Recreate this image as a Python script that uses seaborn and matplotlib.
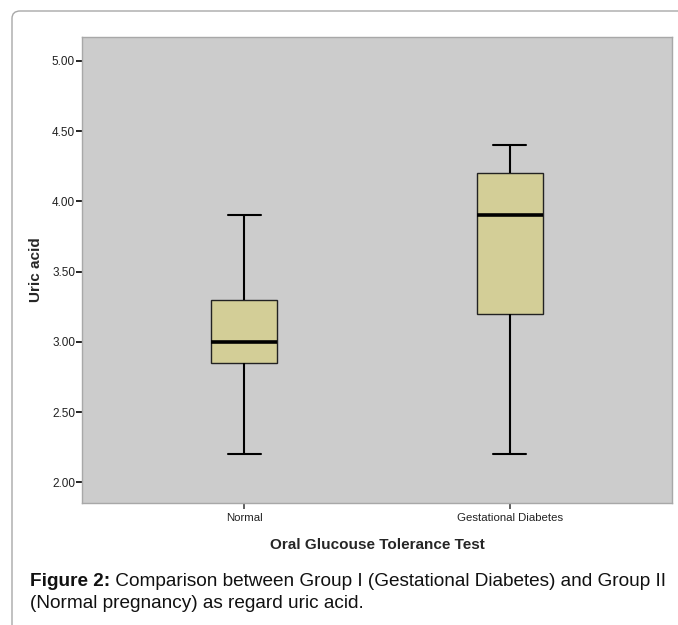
import matplotlib
matplotlib.use("Agg")
import matplotlib.pyplot as plt
from matplotlib.patches import FancyBboxPatch
import pandas as pd
import seaborn as sns

# ============ DATA (five-number summaries) ================================
groups = ["Normal", "Gestational Diabetes"]
normal_vals = [2.20, 2.85, 3.00, 3.30, 3.90]
gdm_vals = [2.20, 3.20, 3.90, 4.20, 4.40]
y_ticks = [2.00, 2.50, 3.00, 3.50, 4.00, 4.50, 5.00]
x_title = "Oral Glucouse Tolerance Test"
y_title = "Uric acid"
caption_bold = "Figure 2:"
caption_rest = " Comparison between Group I (Gestational Diabetes) and Group II"
caption_line2 = "(Normal pregnancy) as regard uric acid."
# ==========================================================================

df = pd.DataFrame({
    "group": [groups[0]] * len(normal_vals) + [groups[1]] * len(gdm_vals),
    "value": normal_vals + gdm_vals,
})

sns.set_theme(style="white")
plt.rcParams["font.family"] = ["Liberation Sans", "DejaVu Sans"]

W, H = 678, 625
fig = plt.figure(figsize=(W / 100, H / 100), dpi=100)
ax = fig.add_axes([82 / W, 1 - 503 / H, 590 / W, (503 - 36.7) / H])

sns.boxplot(data=df, x="group", y="value", order=groups, ax=ax,
            width=0.25, whis=(0, 100), color="#D3CE97", saturation=1,
            linecolor="black", linewidth=1.5,
            boxprops=dict(edgecolor="#222222", linewidth=1.0),
            medianprops=dict(color="black", linewidth=2.6))

ax.set_facecolor("#CCCCCC")
ax.set_xlim(-0.611, 1.611)
ax.set_ylim(1.854, 5.171)
ax.set_yticks(y_ticks)
ax.set_yticklabels([f"{v:.2f}" for v in y_ticks])
for s in ax.spines.values():
    s.set_color("#A8A8A8")
    s.set_linewidth(1.0)

ax.tick_params(axis="y", left=True, length=4, width=1.2, color="black",
               pad=1, labelsize=8.5, labelcolor="#222222")
ax.tick_params(axis="x", bottom=True, length=4.3, width=1.2, color="#444444",
               pad=3, labelsize=8.2, labelcolor="#222222")

ax.set_xlabel(x_title, fontsize=11, fontweight="bold", labelpad=11)
ax.set_ylabel(y_title, fontsize=11, fontweight="bold", labelpad=6.5)

# outer frame around figure and caption
frame = FancyBboxPatch((12 / W, -0.2), 1.2, (1 - 11 / H) + 0.2,
                       boxstyle="round,pad=0,rounding_size=0.012",
                       transform=fig.transFigure, fill=False,
                       edgecolor="#A8A8A8", linewidth=1.0, zorder=0)
fig.patches.append(frame)

# caption
t1 = fig.text(30 / W, 1 - 582 / H, caption_bold, fontsize=13.7, fontweight="bold",
              va="center", ha="left", color="#111111")
renderer = fig.canvas.get_renderer()
bb = t1.get_window_extent(renderer)
fig.text(bb.x1 / W, 1 - 582 / H, caption_rest, fontsize=13.7,
         va="center", ha="left", color="#111111")
fig.text(30 / W, 1 - 604 / H, caption_line2, fontsize=13.7,
         va="center", ha="left", color="#111111")

fig.savefig("out.png", dpi=100)
